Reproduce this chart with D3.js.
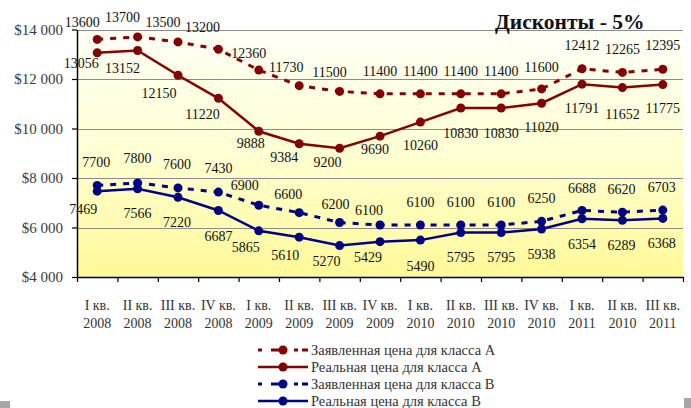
<!DOCTYPE html>
<html>
<head>
<meta charset="utf-8">
<script src="https://cdn.jsdelivr.net/npm/d3@7"></script>
<style>
  html, body { margin: 0; padding: 0; background: #fff; }
  svg { display: block; }
</style>
</head>
<body>
<script>
// Quarter / year labels for the category axis
const quarters = ["I кв.", "II кв.", "III кв.", "IV кв.", "I кв.", "II кв.", "III кв.", "IV кв.",
                  "I кв.", "II кв.", "III кв.", "IV кв.", "I кв.", "II кв.", "III кв."];
const years = ["2008", "2008", "2008", "2008", "2009", "2009", "2009", "2009",
               "2010", "2010", "2010", "2010", "2011", "2010", "2011"];

// Prices, $ per sq. m
const declaredA = [13600, 13700, 13500, 13200, 12360, 11730, 11500, 11400, 11400, 11400, 11400, 11600, 12412, 12265, 12395];
const realA     = [13056, 13152, 12150, 11220, 9888, 9384, 9200, 9690, 10260, 10830, 10830, 11020, 11791, 11652, 11775];
const declaredB = [7700, 7800, 7600, 7430, 6900, 6600, 6200, 6100, 6100, 6100, 6100, 6250, 6688, 6620, 6703];
const realB     = [7469, 7566, 7220, 6687, 5865, 5610, 5270, 5429, 5490, 5795, 5795, 5938, 6354, 6289, 6368];

const yTicks = [4000, 6000, 8000, 10000, 12000, 14000];

const seriesNames = ["Заявленная цена для класса А", "Реальная цена для класса А",
                     "Заявленная цена для класса В", "Реальная цена для класса В"];
const titleText = "Дисконты - 5%";

// Label placement (pixel offsets from each point)
const labelDx = [
  [-15, -15, -15, -16, -10, -13, -10, 0, 0, 0, 0, 0, 0, 0, 0],
  [-16, -15, -19, -16, -8, -15, -12, -5, 0, 0, 0, 0, 0, 0, 0],
  [-1, 0, -1, 0, -14, -11, -4, -11, 0, 0, 0, 0, 0, -1, -1],
  [-14, 0, -1, 0, -13, -14, -13, -12, 0, 0, 0, 0, 0, -1, -1]
];
const labelDy = [
  [-17, -20, -20, -22, -17, -19, -19, -23, -23, -23, -23, -22, -24, -23, -24],
  [10, 18, 18, 16, 12, 13, 14, 13, 23, 25, 25, 24, 24, 26, 24],
  [-23, -25, -24, -24, -20, -19, -18, -15, -23, -23, -23, -23, -22, -23, -23],
  [18, 24, 25, 26, 16, 18, 16, 15, 26, 25, 25, 25, 25, 25, 25]
];

const SERIF = "'Liberation Serif', 'Times New Roman', serif";
const W = 691, H = 408;
const plot = { left: 77, right: 683, top: 29.5, bottom: 277 };

const svg = d3.select("body").append("svg").attr("width", W).attr("height", H);

const idx = d3.range(quarters.length);
const x = d3.scaleBand().domain(idx).range([plot.left, plot.right]).paddingInner(0).paddingOuter(0);
const xEdge = d3.scaleLinear().domain([0, quarters.length]).range([plot.left, plot.right]);
const y = d3.scaleLinear().domain([4000, 14000]).range([plot.bottom, plot.top]);
const cx = i => x(i) + x.bandwidth() / 2;

// Plot background gradient
const defs = svg.append("defs");
const grad = defs.append("linearGradient").attr("id", "bg").attr("x1", 0).attr("y1", 0).attr("x2", 0).attr("y2", 1);
grad.append("stop").attr("offset", "0%").attr("stop-color", "#fffff6");
grad.append("stop").attr("offset", "50%").attr("stop-color", "#ffffd2");
grad.append("stop").attr("offset", "100%").attr("stop-color", "#fff998");
svg.append("rect")
  .attr("x", plot.left).attr("y", plot.top)
  .attr("width", plot.right - plot.left).attr("height", plot.bottom - plot.top)
  .attr("fill", "url(#bg)");

// Gridlines
svg.append("g").selectAll("line").data(yTicks.filter(v => v > 4000)).join("line")
  .attr("x1", plot.left).attr("x2", plot.right)
  .attr("y1", d => Math.round(y(d)) + 0.5).attr("y2", d => Math.round(y(d)) + 0.5)
  .attr("stroke", "#8c8c8c").attr("stroke-width", 1);

// Y axis
const fmt = v => "$" + String(v).replace(/\B(?=(\d{3})+(?!\d))/g, " ");
const yAxis = svg.append("g").attr("transform", `translate(${plot.left},0)`)
  .call(d3.axisLeft(y).tickValues(yTicks).tickFormat(fmt).tickSize(5).tickPadding(9).tickSizeOuter(0));
yAxis.select(".domain").attr("stroke", "#000").attr("stroke-width", 1.5);
yAxis.selectAll(".tick line").attr("stroke", "#000").attr("stroke-width", 1.2);
yAxis.selectAll(".tick text").style("font-size", "15px").style("font-family", SERIF).attr("fill", "#3a3a3a");

// X axis: boundary ticks
const xAxis = svg.append("g").attr("transform", `translate(0,${plot.bottom})`)
  .call(d3.axisBottom(xEdge).tickValues(d3.range(quarters.length + 1)).tickFormat("").tickSize(5).tickSizeOuter(0));
xAxis.select(".domain").attr("stroke", "#000").attr("stroke-width", 1.5);
xAxis.selectAll(".tick line").attr("stroke", "#000").attr("stroke-width", 1.2);

// X category labels (two lines)
const xl = svg.append("g").attr("fill", "#333").attr("text-anchor", "middle")
  .style("font-family", SERIF).style("font-size", "14px");
xl.selectAll("text.q").data(idx).join("text").attr("class", "q")
  .attr("x", d => cx(d)).attr("y", 305).attr("dy", "0.35em").text(d => quarters[d]);
xl.selectAll("text.yr").data(idx).join("text").attr("class", "yr")
  .attr("x", d => cx(d)).attr("y", 323).attr("dy", "0.35em").text(d => years[d]);

// Series
const colA = "#850000", colB = "#000085";
const series = [
  { values: declaredA, color: colA, dash: "6,7", width: 3 },
  { values: realA, color: colA, dash: null, width: 2.5 },
  { values: declaredB, color: colB, dash: "6,7", width: 3 },
  { values: realB, color: colB, dash: null, width: 2.5 }
];

const line = d3.line().x((d, i) => cx(i)).y(d => y(d));

series.forEach(s => {
  svg.append("path").datum(s.values)
    .attr("d", line).attr("fill", "none")
    .attr("stroke", s.color).attr("stroke-width", s.width)
    .attr("stroke-dasharray", s.dash);
  svg.append("g").selectAll("circle").data(s.values).join("circle")
    .attr("cx", (d, i) => cx(i)).attr("cy", d => y(d)).attr("r", 4.5).attr("fill", s.color);
});

// Value labels
series.forEach((s, k) => {
  svg.append("g").attr("fill", "#111").attr("text-anchor", "middle")
    .style("font-family", SERIF).style("font-size", "14px")
    .selectAll("text").data(s.values).join("text")
    .attr("x", (d, i) => cx(i) + labelDx[k][i])
    .attr("y", (d, i) => y(d) + labelDy[k][i])
    .attr("dy", "0.35em")
    .text(d => d);
});

// Title
svg.append("text").attr("x", 495).attr("y", 29)
  .style("font-family", SERIF).style("font-size", "21.5px").attr("font-weight", "bold").attr("fill", "#111")
  .text(titleText);

// Legend
const leg = svg.append("g");
series.forEach((s, k) => {
  const ly = 350 + k * 17;
  leg.append("line").attr("x1", 258).attr("x2", 308).attr("y1", ly).attr("y2", ly)
    .attr("stroke", s.color).attr("stroke-width", s.width)
    .attr("stroke-dasharray", s.dash ? "4,9,14,9,4" : null);
  leg.append("circle").attr("cx", 283).attr("cy", ly).attr("r", 4.5).attr("fill", s.color);
  leg.append("text").attr("x", 311).attr("y", ly).attr("dy", "0.35em")
    .style("font-family", SERIF).style("font-size", "14.5px").attr("fill", "#333").text(seriesNames[k]);
});

// Window frame corners
svg.append("rect").attr("x", 0).attr("y", 401).attr("width", 10).attr("height", 7).attr("fill", "#a6a6a6");
svg.append("rect").attr("x", 684).attr("y", 398).attr("width", 7).attr("height", 10).attr("fill", "#a6a6a6");
</script>
</body>
</html>
